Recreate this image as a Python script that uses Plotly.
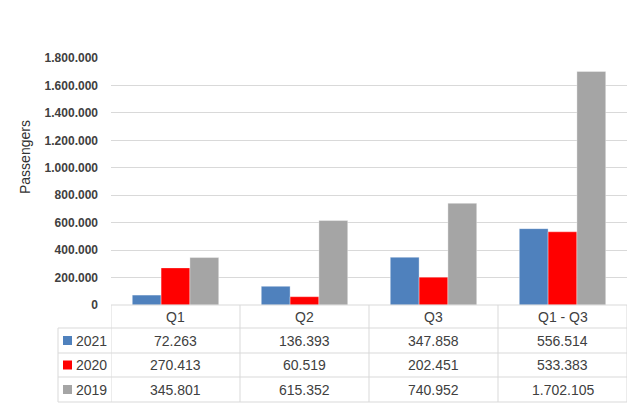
import plotly.graph_objects as go

categories = ["Q1", "Q2", "Q3", "Q1 - Q3"]
series_names = ["2021", "2020", "2019"]
values_2021 = [72263, 136393, 347858, 556514]
values_2020 = [270413, 60519, 202451, 533383]
values_2019 = [345801, 615352, 740952, 1702105]
y_ticks = [0, 200000, 400000, 600000, 800000, 1000000, 1200000, 1400000, 1600000, 1800000]
y_title = "Passengers"

colors = ["#4f81bd", "#ff0000", "#a5a5a5"]
all_values = [values_2021, values_2020, values_2019]

W, H = 640, 407
L, R, T, B = 111, 13, 58, 102
PW, PH = W - L - R, H - T - B

def px_x(px):
    return (px - L) / PW

def px_y(py):
    return (H - B - py) / PH

def fmt(v):
    return f"{v:,}".replace(",", ".")

fig = go.Figure()
for name, vals, col in zip(series_names, all_values, colors):
    fig.add_trace(go.Bar(
        x=categories, y=vals, name=name,
        marker=dict(color=col, line=dict(color="rgba(255,255,255,0.35)", width=1)),
        showlegend=False,
    ))

grid = "#d9d9d9"
txt = "#404040"
shapes = []
annotations = []

# table geometry (pixels)
row_lines = [305, 328, 353, 377, 402]
left_px = 58
shapes.append(dict(type="line", xref="paper", yref="paper", x0=0, x1=1,
                   y0=px_y(row_lines[0]), y1=px_y(row_lines[0]), line=dict(color=grid, width=1)))
for ry in row_lines[1:]:
    shapes.append(dict(type="line", xref="paper", yref="paper", x0=px_x(left_px), x1=1,
                       y0=px_y(ry), y1=px_y(ry), line=dict(color=grid, width=1)))
for i in range(len(categories) + 1):
    shapes.append(dict(type="line", xref="x", yref="paper", x0=i - 0.5, x1=i - 0.5,
                       y0=px_y(row_lines[0]), y1=px_y(row_lines[-1]), line=dict(color=grid, width=1)))
shapes.append(dict(type="line", xref="paper", yref="paper", x0=px_x(left_px), x1=px_x(left_px),
                   y0=px_y(row_lines[1]), y1=px_y(row_lines[-1]), line=dict(color=grid, width=1)))

cell_font = dict(family="Liberation Sans, Arial, sans-serif", size=14, color=txt)
hy = (row_lines[0] + row_lines[1]) / 2
for c in categories:
    annotations.append(dict(x=c, y=px_y(hy), xref="x", yref="paper", text=c, showarrow=False,
                            font=cell_font, xanchor="center", yanchor="middle"))
for r, (name, vals, col) in enumerate(zip(series_names, all_values, colors)):
    cy = (row_lines[r + 1] + row_lines[r + 2]) / 2
    for c, v in zip(categories, vals):
        annotations.append(dict(x=c, y=px_y(cy), xref="x", yref="paper", text=fmt(v), showarrow=False,
                                font=cell_font, xanchor="center", yanchor="middle"))
    shapes.append(dict(type="rect", xref="paper", yref="paper",
                       x0=px_x(63), x1=px_x(72), y0=px_y(cy + 4.5), y1=px_y(cy - 4.5),
                       fillcolor=col, line=dict(width=0)))
    annotations.append(dict(x=px_x(74), y=px_y(cy), xref="paper", yref="paper", text=name, showarrow=False,
                            font=cell_font, xanchor="left", yanchor="middle"))

annotations.append(dict(x=px_x(25), y=px_y(157), xref="paper", yref="paper", text=y_title,
                        showarrow=False, textangle=-90, xanchor="center", yanchor="middle",
                        font=dict(family="Liberation Sans, Arial, sans-serif", size=14, color="#333333")))

fig.update_layout(
    width=W, height=H,
    margin=dict(l=L, r=R, t=T, b=B, pad=0),
    paper_bgcolor="white", plot_bgcolor="white",
    separators=",.",
    barmode="group", bargap=0.33, bargroupgap=0,
    shapes=shapes, annotations=annotations,
    xaxis=dict(showticklabels=False, showgrid=False, showline=False, zeroline=False,
               range=[-0.5, 3.5], fixedrange=True),
    yaxis=dict(range=[0, 1800000], tickvals=y_ticks, tickformat=",d",
               showgrid=True, gridcolor=grid, gridwidth=1, zeroline=False, showline=False,
               ticklabelstandoff=12,
               tickfont=dict(family="Liberation Sans, Arial, sans-serif", size=12, color="#404040",
                             weight="bold")),
)

fig.write_html("out.html", config={"displayModeBar": False},
               post_script="document.body.style.margin='0';document.body.style.overflow='hidden';")
